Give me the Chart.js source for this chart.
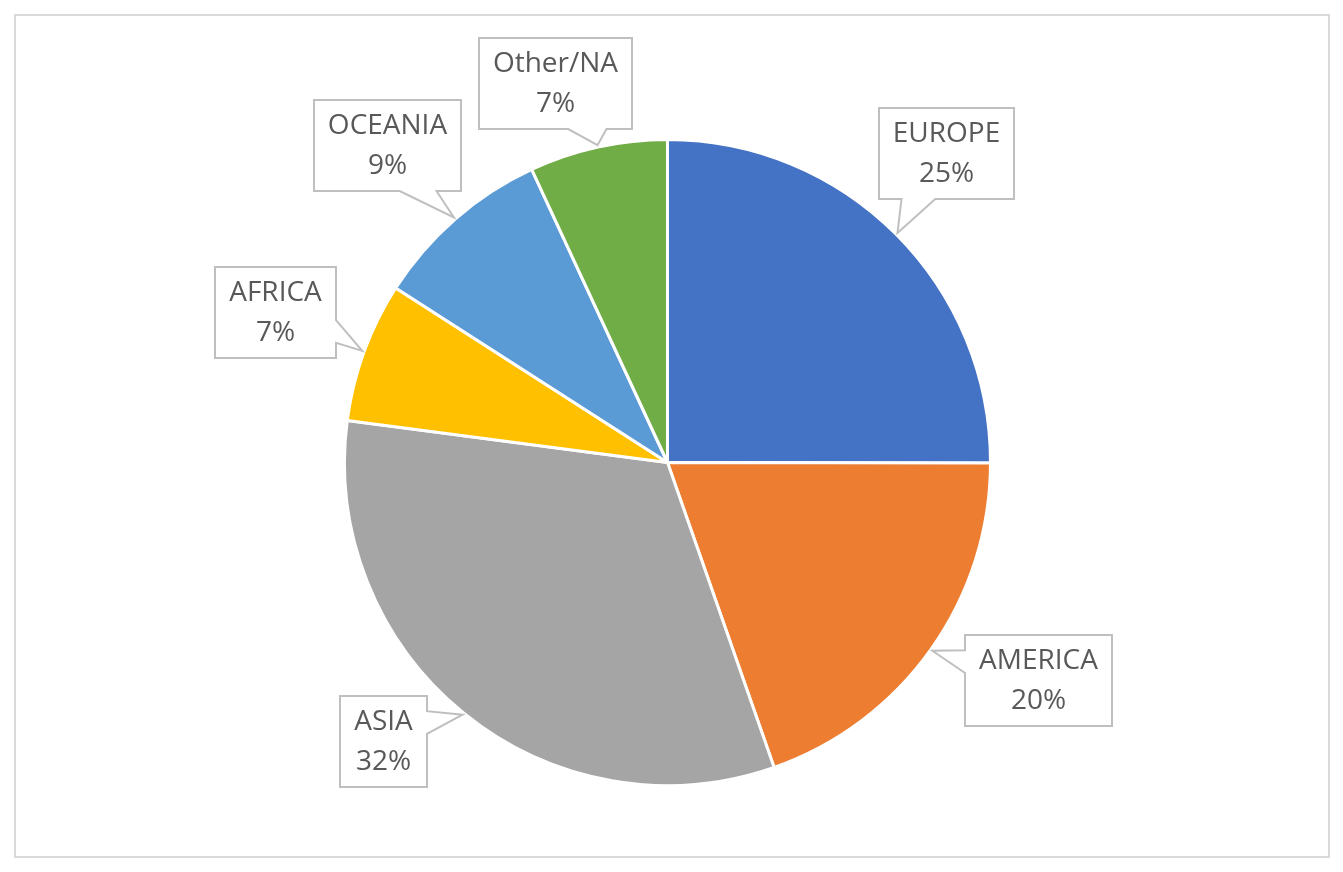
<!DOCTYPE html>
<html>
<head>
<meta charset="utf-8">
<script src="https://cdn.jsdelivr.net/npm/chart.js@4.4.1/dist/chart.umd.min.js"></script>
<style>
    html, body { margin: 0; padding: 0; background: #fff; }
    #frame { position: absolute; left: 14px; top: 14px; width: 1312px; height: 840px; border: 2px solid #d9d9d9; }
    #wrap { position: absolute; left: 0; top: 0; width: 1343px; height: 872px; }
</style>
</head>
<body>
<div id="frame"></div>
<div id="wrap"><canvas id="pieChart"></canvas></div>
<script>
const regions = ['EUROPE', 'AMERICA', 'ASIA', 'AFRICA', 'OCEANIA', 'Other/NA'];
const shares = [25.0, 19.6, 32.4, 7.0, 9.0, 6.9];
const sliceColors = ['#4472C4', '#ED7D31', '#A5A5A5', '#FFC000', '#5B9BD5', '#70AD47'];

// callout box centres, as offsets from the pie centre (px)
const calloutOffsets = [[279, -309], [371, 218], [-284, 279], [-392, -150], [-280, -317], [-112, -379]];

const calloutPlugin = {
    id: 'callouts',
    afterDraw(chart) {
        const ctx = chart.ctx, meta = chart.getDatasetMeta(0);
        const total = shares.reduce((a, b) => a + b, 0);
        ctx.save();
        ctx.font = '28px "Open Sans", sans-serif';
        meta.data.forEach((arc, i) => {
            const lines = [regions[i], Math.round(shares[i] / total * 100) + '%'];
            const mid = (arc.startAngle + arc.endAngle) / 2, r = arc.outerRadius + 2;
            const tip = { x: arc.x + Math.cos(mid) * r, y: arc.y + Math.sin(mid) * r };
            const tw = Math.max(...lines.map(l => ctx.measureText(l).width));
            const w = Math.round(tw + 28), h = 91;
            const cx = arc.x + calloutOffsets[i][0], cy = arc.y + calloutOffsets[i][1];
            const L = cx - w / 2, T = cy - h / 2, R = cx + w / 2, B = cy + h / 2;
            const dx = tip.x - cx, dy = tip.y - cy;
            // wedge rect callout: pick the edge, base at 2/12..5/12 or 7/12..10/12
            const pts = [];
            if (Math.abs(dy) / h > Math.abs(dx) / w) {
                const b0 = dx < 0 ? L + w * 2 / 12 : L + w * 7 / 12, b1 = b0 + w * 3 / 12;
                if (dy > 0) pts.push([L, T], [R, T], [R, B], [b1, B], [tip.x, tip.y], [b0, B], [L, B]);
                else pts.push([L, T], [b0, T], [tip.x, tip.y], [b1, T], [R, T], [R, B], [L, B]);
            } else {
                const b0 = dy < 0 ? T + h * 2 / 12 : T + h * 7 / 12, b1 = b0 + h * 3 / 12;
                if (dx > 0) pts.push([L, T], [R, T], [R, b0], [tip.x, tip.y], [R, b1], [R, B], [L, B]);
                else pts.push([L, T], [R, T], [R, B], [L, B], [L, b1], [tip.x, tip.y], [L, b0]);
            }
            ctx.beginPath();
            pts.forEach((p, k) => k ? ctx.lineTo(p[0], p[1]) : ctx.moveTo(p[0], p[1]));
            ctx.closePath();
            ctx.fillStyle = '#ffffff';
            ctx.fill();
            ctx.lineWidth = 2;
            ctx.strokeStyle = '#bfbfbf';
            ctx.stroke();
            ctx.fillStyle = '#595959';
            ctx.textAlign = 'center';
            ctx.textBaseline = 'middle';
            ctx.fillText(lines[0], cx, cy - 19);
            ctx.fillText(lines[1], cx, cy + 21);
        });
        ctx.restore();
    }
};

new Chart(document.getElementById('pieChart').getContext('2d'), {
    type: 'pie',
    data: {
        labels: regions,
        datasets: [{ data: shares, backgroundColor: sliceColors, borderColor: '#ffffff', borderWidth: 3 }]
    },
    options: {
        responsive: true,
        maintainAspectRatio: false,
        animation: false,
        layout: { padding: { left: 343, right: 351, top: 138, bottom: 85 } },
        plugins: { legend: { display: false }, tooltip: { enabled: false } }
    },
    plugins: [calloutPlugin]
});
</script>
</body>
</html>
